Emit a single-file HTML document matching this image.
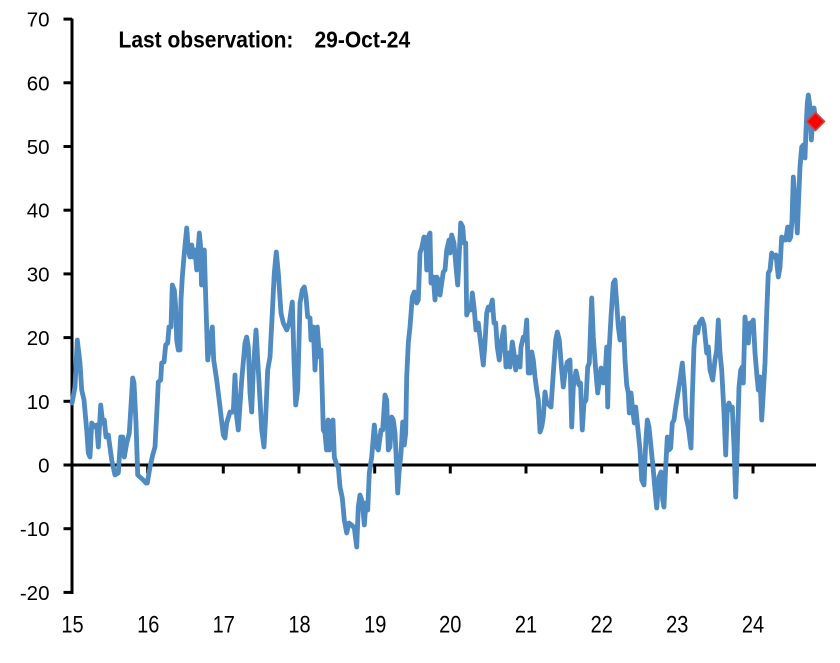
<!DOCTYPE html>
<html>
<head>
<meta charset="utf-8">
<style>
  html, body { margin: 0; padding: 0; background: #ffffff; }
  body { width: 840px; height: 663px; overflow: hidden; }
  svg { display: block; }
  text { font-family: "Liberation Sans", Arial, sans-serif; fill: #000; }
</style>
</head>
<body>
<svg width="840" height="663" viewBox="0 0 840 663" xmlns="http://www.w3.org/2000/svg">
  <rect x="0" y="0" width="840" height="663" fill="#ffffff"/>

  <!-- Title -->
  <g transform="translate(118.5,47.5) scale(1,1.12)">
    <text x="0" y="0" font-size="21" font-weight="bold">Last observation:</text>
  </g>
  <g transform="translate(314.5,47.5) scale(1,1.12)">
    <text x="0" y="0" font-size="21" font-weight="bold">29-Oct-24</text>
  </g>

  <!-- Y axis -->
  <line x1="72" y1="18.5" x2="72" y2="594" stroke="#000" stroke-width="3"/>
  <g stroke="#000" stroke-width="3">
    <line x1="63.5" y1="19.1" x2="72" y2="19.1"/>
    <line x1="63.5" y1="82.8" x2="72" y2="82.8"/>
    <line x1="63.5" y1="146.5" x2="72" y2="146.5"/>
    <line x1="63.5" y1="210.2" x2="72" y2="210.2"/>
    <line x1="63.5" y1="273.9" x2="72" y2="273.9"/>
    <line x1="63.5" y1="337.6" x2="72" y2="337.6"/>
    <line x1="63.5" y1="401.3" x2="72" y2="401.3"/>
    <line x1="63.5" y1="465" x2="72" y2="465"/>
    <line x1="63.5" y1="528.7" x2="72" y2="528.7"/>
    <line x1="63.5" y1="592.4" x2="72" y2="592.4"/>
  </g>
  <g font-size="20.5" text-anchor="end">
    <text x="49.5" y="26.6">70</text>
    <text x="49.5" y="90.3">60</text>
    <text x="49.5" y="154">50</text>
    <text x="49.5" y="217.7">40</text>
    <text x="49.5" y="281.4">30</text>
    <text x="49.5" y="345.1">20</text>
    <text x="49.5" y="408.8">10</text>
    <text x="49.5" y="472.5">0</text>
    <text x="49.5" y="536.2">-10</text>
    <text x="49.5" y="599.9">-20</text>
  </g>

  <!-- X axis at zero -->
  <line x1="72" y1="465" x2="816" y2="465" stroke="#000" stroke-width="3"/>
  <g stroke="#000" stroke-width="3">
    <line x1="147.7" y1="465" x2="147.7" y2="473.5"/>
    <line x1="223.3" y1="465" x2="223.3" y2="473.5"/>
    <line x1="299" y1="465" x2="299" y2="473.5"/>
    <line x1="374.7" y1="465" x2="374.7" y2="473.5"/>
    <line x1="450.3" y1="465" x2="450.3" y2="473.5"/>
    <line x1="526" y1="465" x2="526" y2="473.5"/>
    <line x1="601.7" y1="465" x2="601.7" y2="473.5"/>
    <line x1="677.3" y1="465" x2="677.3" y2="473.5"/>
    <line x1="753" y1="465" x2="753" y2="473.5"/>
  </g>
  <g font-size="20" text-anchor="middle">
    <g transform="translate(72.5,632.3) scale(1,1.2)"><text x="0" y="0">15</text></g>
    <g transform="translate(148.2,632.3) scale(1,1.2)"><text x="0" y="0">16</text></g>
    <g transform="translate(223.8,632.3) scale(1,1.2)"><text x="0" y="0">17</text></g>
    <g transform="translate(299.5,632.3) scale(1,1.2)"><text x="0" y="0">18</text></g>
    <g transform="translate(375.2,632.3) scale(1,1.2)"><text x="0" y="0">19</text></g>
    <g transform="translate(450.3,632.3) scale(1,1.2)"><text x="0" y="0">20</text></g>
    <g transform="translate(526,632.3) scale(1,1.2)"><text x="0" y="0">21</text></g>
    <g transform="translate(601.7,632.3) scale(1,1.2)"><text x="0" y="0">22</text></g>
    <g transform="translate(677.3,632.3) scale(1,1.2)"><text x="0" y="0">23</text></g>
    <g transform="translate(753,632.3) scale(1,1.2)"><text x="0" y="0">24</text></g>
  </g>

  <!-- Series -->
  <polyline fill="none" stroke="#4F8AC0" stroke-width="4.8" stroke-linejoin="round" stroke-linecap="round"
    points="72,403 75,387 77.3,340 80,363 81.7,390 84,400 86.7,430 88.3,453 90,457 91.7,423 95,427 96.7,425 98.3,447 100.7,405 102.7,423 104.3,420 106,437 108.3,435 111.7,460 115,475 118.3,473 120.7,437 122.7,437 124.3,457 126.7,443 129.3,433 132.7,378 134,383 136,423 137.7,475 140,477 143.3,480 146,483 147.3,483 150,467 152.7,455 155,447 157.3,403 158.3,382 160.7,380 161.7,363 164,362 165.7,345 167.7,343 169,327 171,327 172.3,285 174.3,290 175.7,307 176.7,340 178.3,350 180,350 181,300 182.3,277 184.3,253 186.7,228 188.3,250 190,257 191.7,245 193.3,257 195,250 196.7,270 199.3,233 200.5,245 201.5,285 202.5,250 204.3,250 205.7,297 207.7,360 210,343 212.3,327 213.7,360 216.7,380 220,407 223.3,435 225,438 226.7,423 230,412 233.3,412 235,375 236.7,417 238.3,430 241.7,380 245,343 246.7,337 248.3,347 250,393 251.7,412 253.3,370 256,330 258.3,370 261.7,430 264,447 265.7,417 267.7,370 270,357 272.3,313 274.3,273 276.3,252 278.3,273 281,313 283.3,323 286.7,330 289.3,323 292.3,302 294,360 295.7,405 297.7,390 300,303 302.3,290 304.3,287 306,297 307.7,317 310,318 311,340 313.3,327 315,370 317.3,327 319.3,357 321,350 323.3,430 325,433 326.5,450 328,420 329.3,450 331,423 333,420 334.3,457 336.7,465 338.3,467 340,487 342.3,498 344.3,520 346.7,533 349,523 351.7,525 354.3,528 356.7,547 358.3,507 360,495 362.3,502 364.3,525 366,503 367.7,510 369.3,473 371.7,457 374.3,425 376.7,447 378.3,450 381,430 382.7,430 385,395 386.7,400 388.3,450 390,447 391.7,417 393.3,420 395,433 396,453 397.7,493 399,473 401,453 402.7,422 404.3,445 405.7,433 406.7,377 408.3,343 410,327 412.3,297 414.3,292 416.7,303 418.3,300 420,253 421.7,248 424,237 425.7,238 426.7,270 428.3,237 430,233 431,283 433.3,277 435,300 436.7,277 438.3,280 440,295 441.7,283 443.3,272 445,270 446.7,250 449,240 450,253 451.7,235 454,243 456,267 457.7,285 459.3,253 460.7,223 462.7,227 464,243 465.7,243 466.7,315 469,307 471,310 472.3,293 474,307 476,330 478.3,323 480.7,343 483.3,365 485,343 486.7,313 488.3,307 490,310 492.3,300 494,323 495.7,323 497.3,347 499.3,360 501.7,340 504,327 506,367 508.3,353 510,367 512.3,342 514,353 515.7,370 517.7,357 520,367 521,347 523.3,337 525,340 526.7,320 528.3,373 530,373 531.7,352 533.3,360 535,377 536.7,390 538.3,400 540,432 541.7,427 543.3,417 545,392 546.7,403 549,405 551,407 553.3,373 555.7,340 557.3,332 559.3,340 561.7,370 563.3,387 565,373 567.3,362 570,360 571.7,427 573.3,387 576,371 579,385 580.5,383 582.3,430 584,403 586,400 587.7,367 589.3,363 591.7,298 593.3,337 595.7,370 597.7,393 599,383 601,368 603.3,383 605,377 606.7,347 607.7,407 609,353 611,317 613.3,283 615,280 616.7,303 618.3,327 620,340 621.7,333 623.3,318 625,360 626.7,385 628.3,393 629.3,413 631,393 632.7,410 634.3,423 635.7,407 637.7,427 640,450 641.7,480 644,485 645.7,443 647.3,420 649,427 651,447 653.3,470 655,490 656.7,508 659,477 661,472 662.7,500 664,507 665.7,467 667.3,437 669,450 670.7,448 672.3,423 674,420 675.7,407 677.3,397 680,380 682.3,363 684.3,387 686,417 688.3,427 691,448 692.3,397 694,347 695.7,327 697.7,333 699.3,323 702,319 704,325 706.7,353 708.3,347 710,370 712.7,380 715,360 716.7,350 718.3,320 720,353 721.7,370 724,413 725.7,455 727.3,407 729,403 730.7,410 732.3,407 734,447 735.7,497 737.3,447 739,387 740.7,370 742.3,367 743.3,383 745,317 746.7,333 748.3,343 750,323 751.7,323 753.3,320 755,353 756.7,373 758.3,390 760,377 761.7,420 763.3,393 765,363 766.7,313 768.3,273 770,270 771.7,253 773.3,257 776,255 778.3,277 780,267 781.7,237 784,240 785.7,240 787.7,227 789.3,240 790.7,237 792,220 793.3,177 794.7,197 796,210 797.3,233 798.7,197 800,167 801.7,147 803.3,145 805,158 806,130 807.3,103 808.3,95 810,107 811.3,140 812.7,123 814,108 815.3,117 815.7,121"/>

  <!-- Last observation marker -->
  <polygon points="815.5,112.5 824.5,121.5 815.5,130.5 806.5,121.5" fill="#FF0000" stroke="#C84848" stroke-width="1.6" stroke-linejoin="miter"/>
</svg>
</body>
</html>
